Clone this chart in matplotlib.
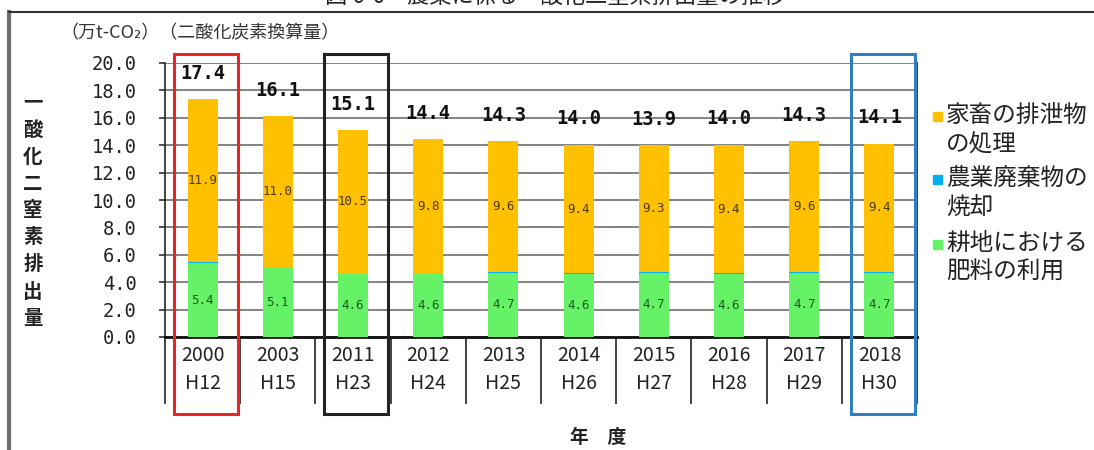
import matplotlib
matplotlib.use("Agg")
import matplotlib.pyplot as plt
from matplotlib.lines import Line2D
from matplotlib.patches import Rectangle
import matplotlib.transforms as mtransforms
import numpy as np

plt.rcParams['font.family'] = ['Noto Sans CJK JP', 'DejaVu Sans']

# ---- data ----
years = ['2000', '2003', '2011', '2012', '2013', '2014', '2015', '2016', '2017', '2018']
eras = ['H12', 'H15', 'H23', 'H24', 'H25', 'H26', 'H27', 'H28', 'H29', 'H30']
fertilizer = [5.4, 5.1, 4.6, 4.6, 4.7, 4.6, 4.7, 4.6, 4.7, 4.7]      # 耕地における肥料の利用
burning = [0.05, 0.02, 0.02, 0.02, 0.02, 0.04, 0.02, 0.04, 0.02, 0.02]  # 農業廃棄物の焼却
manure = [11.9, 11.0, 10.5, 9.8, 9.6, 9.4, 9.3, 9.4, 9.6, 9.4]        # 家畜の排泄物の処理
totals = [17.4, 16.1, 15.1, 14.4, 14.3, 14.0, 13.9, 14.0, 14.3, 14.1]
highlights = {0: '#E8262A', 2: '#222222', 9: '#2F7FC1'}
legend_labels = ['家畜の排泄物\nの処理', '農業廃棄物の\n焼却', '耕地における\n肥料の利用']
yticks = [0, 2, 4, 6, 8, 10, 12, 14, 16, 18, 20]

c_manure = '#FFC000'
c_burn = '#00B0F0'
c_fert = '#66F266'

fig = plt.figure(figsize=(10.94, 4.5), dpi=100)
ax = fig.add_axes([165/1094, 1-337/450, (917-165)/1094, (337-63)/450])

x = np.arange(len(years)) + 0.5
fert = np.array(fertilizer)
burn = np.array(burning)
man = np.array(manure)

ax.bar(x, fert, width=0.4, color=c_fert, zorder=3)
ax.bar(x, burn, width=0.4, bottom=fert, color=c_burn, zorder=3)
ax.bar(x, man, width=0.4, bottom=fert + burn, color=c_manure, zorder=3)

mono = 'DejaVu Sans Mono'
for xi, f, b, m, t in zip(x, fert, burn, man, totals):
    ax.text(xi, f / 2, f'{f:.1f}', ha='center', va='center', fontsize=9,
            family=mono, color='#1d5a1d', zorder=4)
    ax.text(xi, f + b + m / 2, f'{m:.1f}', ha='center', va='center', fontsize=9,
            family=mono, color='#4a3b00', zorder=4)
    ax.annotate(f'{t:.1f}', (xi, f + b + m), xytext=(0, 18.5), textcoords='offset points',
                ha='center', va='center', fontsize=13.5, family=mono, fontweight='bold',
                color='#111111', zorder=4)

ax.set_xlim(0, len(years))
ax.set_ylim(0, 20)
ax.set_yticks(yticks)
ax.set_yticklabels([f'{v:.1f}' for v in yticks], family=mono, fontsize=13.5, color='#222222')
ax.yaxis.grid(True, color='#7a7a7a', linewidth=1.3, zorder=0)
ax.set_axisbelow(True)
ax.tick_params(axis='y', direction='out', length=4.5, width=1.2, color='#333333', pad=16)

ax.set_xticks(x)
ax.set_xticklabels([f'{y}\n{e}' for y, e in zip(years, eras)], fontsize=14,
                   color='#222222', linespacing=1.4)
ax.set_xticks(np.arange(len(years) + 1), minor=True)
ax.tick_params(axis='x', which='major', length=0, pad=6)
ax.tick_params(axis='x', which='minor', direction='out', length=48, width=1.2, color='#222222')

for side in ['left', 'right']:
    ax.spines[side].set_color('#222222')
    ax.spines[side].set_linewidth(1.2)
ax.spines['top'].set_visible(False)
ax.spines['bottom'].set_color('#111111')
ax.spines['bottom'].set_linewidth(2)

# highlight boxes
trans = mtransforms.blended_transform_factory(ax.transData, ax.transAxes)
for idx, col in highlights.items():
    r = Rectangle((idx + 0.12, -0.28), 0.85, 1.313, transform=trans, fill=False,
                  edgecolor=col, linewidth=2.2, clip_on=False, zorder=6)
    ax.add_patch(r)

# unit label
fig.text(60/1094, 1-33/450, '（万t-CO₂）（二酸化炭素換算量）', fontsize=13,
         ha='left', va='center', color='#333333')

# vertical y label
ylab = '一酸化二窒素排出量'
for i, ch in enumerate(ylab):
    fig.text(33/1094, 1-(103 + i*27)/450, ch, fontsize=14, fontweight='bold',
             ha='center', va='center', color='#222222')

# x title
fig.text(598/1094, 1-437/450, '年　度', fontsize=13.5, fontweight='bold',
         ha='center', va='center', color='#222222')

# legend (manual)
leg_colors = [c_manure, c_burn, c_fert]
leg_y = [117, 180, 245]
for col, lab, yy in zip(leg_colors, legend_labels, leg_y):
    fig.patches.append(Rectangle((933/1094, 1-(yy+4)/450), 9/1094, 9/450,
                                 transform=fig.transFigure, color=col, figure=fig))
    fig.text(946/1094, 1-(yy-13)/450, lab, fontsize=17, ha='left', va='top',
             color='#222222', linespacing=1.3)

# outer frame lines & cut-off caption (cut off at the top edge as in the source)
fig.add_artist(Line2D([9/1094, 9/1094], [0, 1-12/450], color='#6e6e6e', linewidth=3,
                      transform=fig.transFigure))
fig.add_artist(Line2D([9/1094, 1], [1-12/450, 1-12/450], color='#333333', linewidth=1.5,
                      transform=fig.transFigure))
fig.text(555/1094, 1+3/450, '図 6-6　農業に係る一酸化二窒素排出量の推移', fontsize=16,
         ha='center', va='center', color='#222222')

fig.savefig('out.png', dpi=100)
